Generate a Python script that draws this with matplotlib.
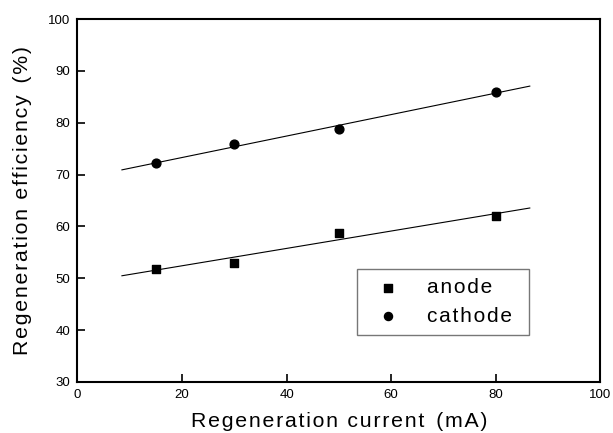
import numpy as np
import matplotlib
matplotlib.use("Agg")
import matplotlib.pyplot as plt

plt.rcParams['font.family'] = ['Liberation Sans', 'DejaVu Sans']

current = [15, 30, 50, 80]
anode = [51.8, 53.0, 58.8, 62.0]
cathode = [72.2, 75.9, 78.8, 86.0]
fit_range = [8.5, 86.5]
x_ticks = [0, 20, 40, 60, 80, 100]
y_ticks = [30, 40, 50, 60, 70, 80, 90, 100]

HS = '\u200a'
def spaced(s):
    return HS.join(s)

fig = plt.figure(figsize=(6.13, 4.33), dpi=100)
ax = fig.add_axes([0.1264, 0.1178, 0.853, 0.838])

xf = np.array(fit_range)
for ys in (anode, cathode):
    k, b = np.polyfit(current, ys, 1)
    ax.plot(xf, k * xf + b, color='black', lw=0.8, zorder=2)

ax.scatter(current, anode, marker='s', s=34, color='black', label=spaced('anode'), zorder=3)
ax.scatter(current, cathode, marker='o', s=40, color='black', label=spaced('cathode'), zorder=3)

ax.set_xlim(0, 100)
ax.set_ylim(30, 100)
ax.set_xticks(x_ticks)
ax.set_yticks(y_ticks)
ax.tick_params(direction='in', length=5.5, width=1.2, labelsize=9.5, top=False, right=False, pad=5)
for s in ax.spines.values():
    s.set_linewidth(1.5)

ax.set_xlabel(spaced('Regeneration current') + '  ' + spaced('(mA)'), fontsize=15.3, labelpad=8)
ax.set_ylabel(spaced('Regeneration efficiency') + '  ' + spaced('(%)'), fontsize=15.3, labelpad=12)

leg = ax.legend(loc='lower left', bbox_to_anchor=(0.534, 0.129, 0.329, 0.18), mode='expand',
                frameon=True, fancybox=False, shadow=False, fontsize=15, handletextpad=0.84,
                borderpad=0.45, labelspacing=0.45, markerscale=0.92, borderaxespad=0,
                handlelength=2.08)
leg.get_frame().set_edgecolor('#555555')
leg.get_frame().set_linewidth(1.0)

fig.savefig('out.png', dpi=100)
